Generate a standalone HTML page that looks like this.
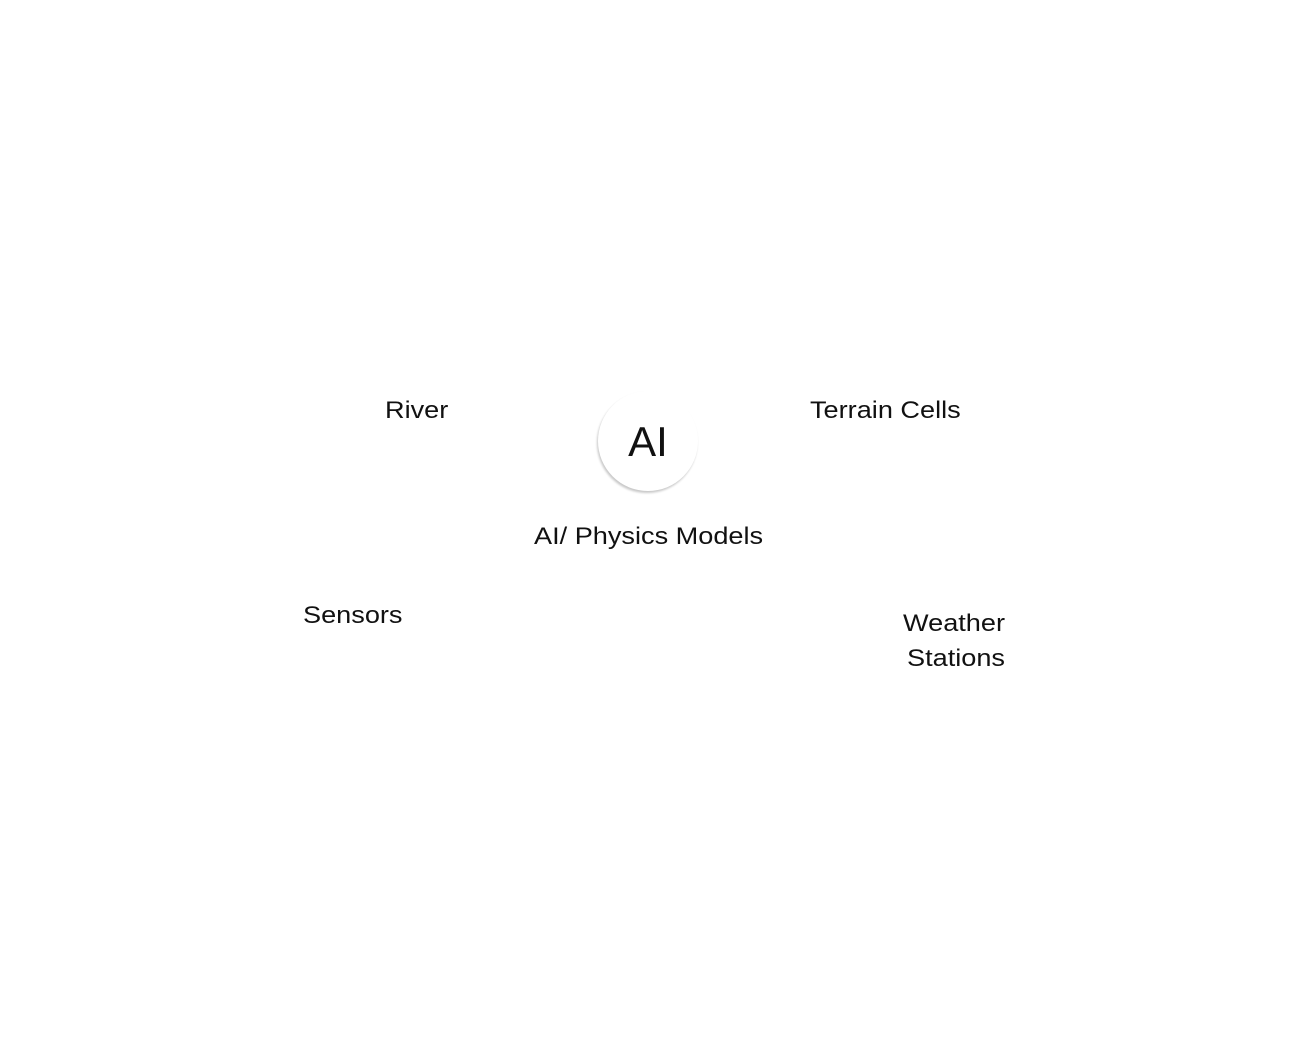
<!DOCTYPE html>
<html><head><meta charset="utf-8"><style>
html,body{margin:0;padding:0;background:#fff;}
body{width:1304px;height:1053px;position:relative;overflow:hidden;font-family:"Liberation Sans",sans-serif;color:#111;}
.t{position:absolute;font-size:24px;line-height:35px;white-space:nowrap;transform:scaleX(1.13);transform-origin:0 0;}
.c{position:absolute;left:598px;top:391px;width:100px;height:100px;border-radius:50%;background:#fff;box-shadow:-1px 2px 2px rgba(0,0,0,0.22);}
.ai{position:absolute;left:598px;top:419px;width:100px;text-align:center;font-size:42px;line-height:46px;}
</style></head><body>
<div class="c"></div>
<div class="ai">AI</div>
<div class="t" style="left:385px;top:393px">River</div>
<div class="t" style="left:810px;top:393px">Terrain Cells</div>
<div class="t" style="left:534px;top:519px">AI/ Physics Models</div>
<div class="t" style="left:303px;top:598px">Sensors</div>
<div class="t" style="left:903px;top:606px">Weather</div>
<div class="t" style="left:907px;top:641px">Stations</div>
</body></html>
